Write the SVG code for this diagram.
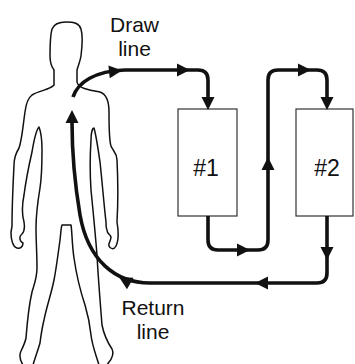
<svg xmlns="http://www.w3.org/2000/svg" xmlns:xlink="http://www.w3.org/1999/xlink" width="355" height="364" viewBox="0 0 355 364">
  <style>
    .body { fill: none; stroke: #111; stroke-width: 1.5; stroke-linejoin: round; stroke-linecap: round; }
    .box { fill: #fff; stroke: #333; stroke-width: 1.2; }
    .flow { fill: none; stroke: #111; stroke-width: 3.6; stroke-linejoin: round; stroke-linecap: butt; }
    .head { fill: #111; }
    .label { font-family: "Liberation Sans", Arial, sans-serif; font-size: 21px; fill: #111; text-anchor: middle; }
    .num { font-family: "Liberation Sans", Arial, sans-serif; font-size: 23px; fill: #111; text-anchor: middle; }
  </style>
  <defs>
    <!-- arrowhead pointing right, tip at the origin -->
    <path id="ah" d="M0,0 L-13,-6.5 L-13,6.5 Z"/>
  </defs>
  <rect width="355" height="364" fill="#fff"/>

  <!-- human figure outline -->
  <g id="patient">
    <path class="body" d="M23,365 C20,360 19,355 21,351 C23,347 25,343 26,338 C27,325 29,305 32,292 C34,285 37,278 37,268 C37,255 36,240 36,228 C36,215 38,200 40,188 C42,175 42,160 42,150 C42,140 41,132 39,127
      C36,130 34,140 32,152 C29,165 26,180 24,195 C22,205 22,215 24,222
      C25,228 24,232 22,234 C19,236 19,241 23,243 C23,247 20,249 17,248 C13,247 11,240 11,233 C11,230 12,228 12,226
      C12,210 13,185 14,165 C14,157 16,153 19,148 C22,140 23,125 25,112 C26,104 28,98 32,95 C40,90 50,90 54,85 L54,70
      C51,66 50,62 50,56 C50,46 50,36 52,29 C54,24 58,22 66,22 C74,22 79,23 81,29 C83,36 82,48 81,56 C80,62 78,66 77,70 L77,82
      C78,88 88,90 100,92 C106,94 109,102 109,112 C109,125 109,140 111,146 C113,151 117,153 117,160 C118,180 118,205 117,222
      C118,228 119,240 116,246 C114,250 110,249 109,246 C108,243 111,241 111,237 C110,234 107,234 107,230 C106,228 106,225 106,222
      C104,205 102,180 100,162 C98,148 96,135 94,128 C92,128 91,135 91,140 C90,155 90,175 91,190 C93,210 95,230 97,255
      C98,275 100,300 102,325 C104,335 108,343 112,349 C114,353 112,359 109,362 L107,365"/>
    <path class="body" d="M33,365 C35,358 38,350 40,343 C41,335 42,328 44,320 C47,305 51,295 54,280 C56,270 58,255 60,240 C61,232 61,227 62,225 L71,225 C72,230 72,245 74,258 C76,272 80,290 85,305 C88,315 90,325 91,335 C92,345 96,355 99,365"/>
  </g>

  <!-- filters -->
  <g id="filter1">
    <rect class="box" x="178" y="109" width="59" height="107"/>
    <text class="num" x="206" y="176">#1</text>
  </g>
  <g id="filter2">
    <rect class="box" x="296" y="109" width="57" height="107"/>
    <text class="num" x="327" y="176">#2</text>
  </g>

  <!-- blood lines -->
  <g id="connectors">
    <path class="flow" d="M73,97 C78,82 95,71 125,70 L198,70 Q208,70 208,80 L208,100"/>
    <path class="flow" d="M208,216 L208,240 Q208,250 218,250 L258,250 Q268,250 268,240 L268,80 Q268,70 278,70 L317,70 Q327,70 327,80 L327,100"/>
    <path class="flow" d="M327,216 L327,273 Q327,283 317,283 L150,283 C115,283 88,260 80,215 C75,185 72,150 72,122"/>
    <use href="#ah" class="head" transform="translate(122,70.5) rotate(-6)"/>
    <use href="#ah" class="head" transform="translate(190,70)"/>
    <use href="#ah" class="head" transform="translate(208,110) rotate(90)"/>
    <use href="#ah" class="head" transform="translate(250,250)"/>
    <use href="#ah" class="head" transform="translate(268,157) rotate(-90)"/>
    <use href="#ah" class="head" transform="translate(311,70)"/>
    <use href="#ah" class="head" transform="translate(327,110) rotate(90)"/>
    <use href="#ah" class="head" transform="translate(327,260) rotate(90)"/>
    <use href="#ah" class="head" transform="translate(255,283) rotate(180)"/>
    <use href="#ah" class="head" transform="translate(119,277) rotate(-150)"/>
    <use href="#ah" class="head" transform="translate(72,110) rotate(-90)"/>
  </g>

  <!-- labels -->
  <g id="labels">
    <text class="label" x="134.5" y="32">Draw</text>
    <text class="label" x="134.5" y="56">line</text>
    <text class="label" x="153" y="315">Return</text>
    <text class="label" x="153" y="339">line</text>
  </g>
</svg>
